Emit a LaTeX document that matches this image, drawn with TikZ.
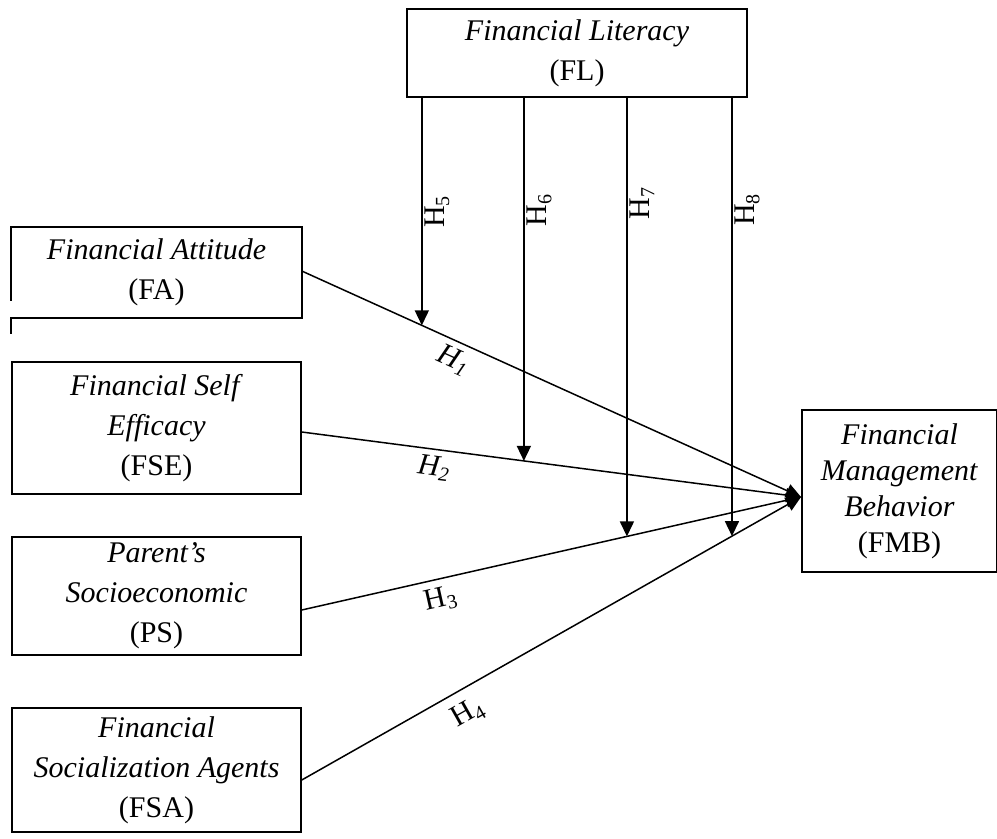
\documentclass[tikz,border=0pt]{standalone}
\usepackage{fontspec}
\setmainfont{Liberation Serif}
\usetikzlibrary{arrows.meta,positioning,calc}

\begin{document}
\begin{tikzpicture}[
  x=0.4pt, y=-0.4pt,
  font=\fontsize{12}{16}\selectfont,
  box/.style={draw, line width=0.6pt, align=center, inner sep=0pt, minimum width=115.6pt},
  arrow/.style={-{Triangle[width=5.6pt,length=6pt]}, line width=0.6pt},
  hyp/.style={inner sep=1pt}
]
  \useasboundingbox (0,0) rectangle (997,838);

  % moderator on top, predictors on the left, outcome on the right
  \node[box, minimum width=136pt, minimum height=35.2pt] (fl) at (577,53) {\textit{Financial Literacy}\\(FL)};
  \node[box, draw=none, minimum height=35.6pt] (fa) at (156.5,272.5) {\textit{Financial Attitude}\\(FA)};
  \node[box, minimum height=52.8pt] (fse) at (156.5,428) {\textit{Financial Self}\\\textit{Efficacy}\\(FSE)};
  \node[box, minimum height=47.2pt] (ps) at (156.5,596) {\textit{Parent’s}\\\textit{Socioeconomic}\\(PS)};
  \node[box, minimum height=49.6pt] (fsa) at (156.5,770) {\textit{Financial}\\\textit{Socialization Agents}\\(FSA)};
  \node[box, minimum width=78pt, minimum height=64.8pt, font=\fontsize{12}{14.4}\selectfont] (fmb) at (899.5,491) {\textit{Financial}\\\textit{Management}\\\textit{Behavior}\\(FMB)};

  % FA box outline as printed (broken left side)
  \draw[line width=0.6pt] ($(fa.south west)+(0,-17)$) |- (fa.north east) |- (fa.south west) -- +(0,16);

  \coordinate (hub) at (801,497);
  \coordinate (s1) at ($(fa.east)+(0,-1.5)$);
  \coordinate (s2) at ($(fse.east)+(0,4)$);
  \coordinate (s3) at ($(ps.east)+(0,14)$);
  \coordinate (s4) at ($(fsa.east)+(0,10)$);

  \draw[arrow] (s1) -- (hub) node[hyp, pos=0.32, sloped, below=1.5pt] {\textit{H\textsubscript{1}}};
  \draw[arrow] (s2) -- (hub) node[hyp, pos=0.27, sloped, below=1.3pt] {\textit{H\textsubscript{2}}};
  \draw[arrow] (s3) -- (hub) node[hyp, pos=0.27, sloped, below=2pt] {H\textsubscript{3}};
  \draw[arrow] (s4) -- (hub) node[hyp, pos=0.31, sloped, below=3.5pt] {H\textsubscript{4}};

  % moderating paths
  \coordinate (m5) at ($(s1)!0.2405!(hub)$);
  \coordinate (m6) at ($(s2)!0.4449!(hub)$);
  \coordinate (m7) at ($(s3)!0.6513!(hub)$);
  \coordinate (m8) at ($(s4)!0.8617!(hub)$);

  \draw[arrow] (fl.south -| m5) -- (m5) node[hyp, pos=0.47, rotate=90, below=2.6pt] {H\textsubscript{5}};
  \draw[arrow] (fl.south -| m6) -- (m6) node[hyp, pos=0.29, rotate=90, below=2.6pt] {H\textsubscript{6}};
  \draw[arrow] (fl.south -| m7) -- (m7) node[hyp, pos=0.225, rotate=90, below=2.6pt] {H\textsubscript{7}};
  \draw[arrow] (fl.south -| m8) -- (m8) node[hyp, pos=0.24, rotate=90, below=2.6pt] {H\textsubscript{8}};
\end{tikzpicture}
\end{document}
